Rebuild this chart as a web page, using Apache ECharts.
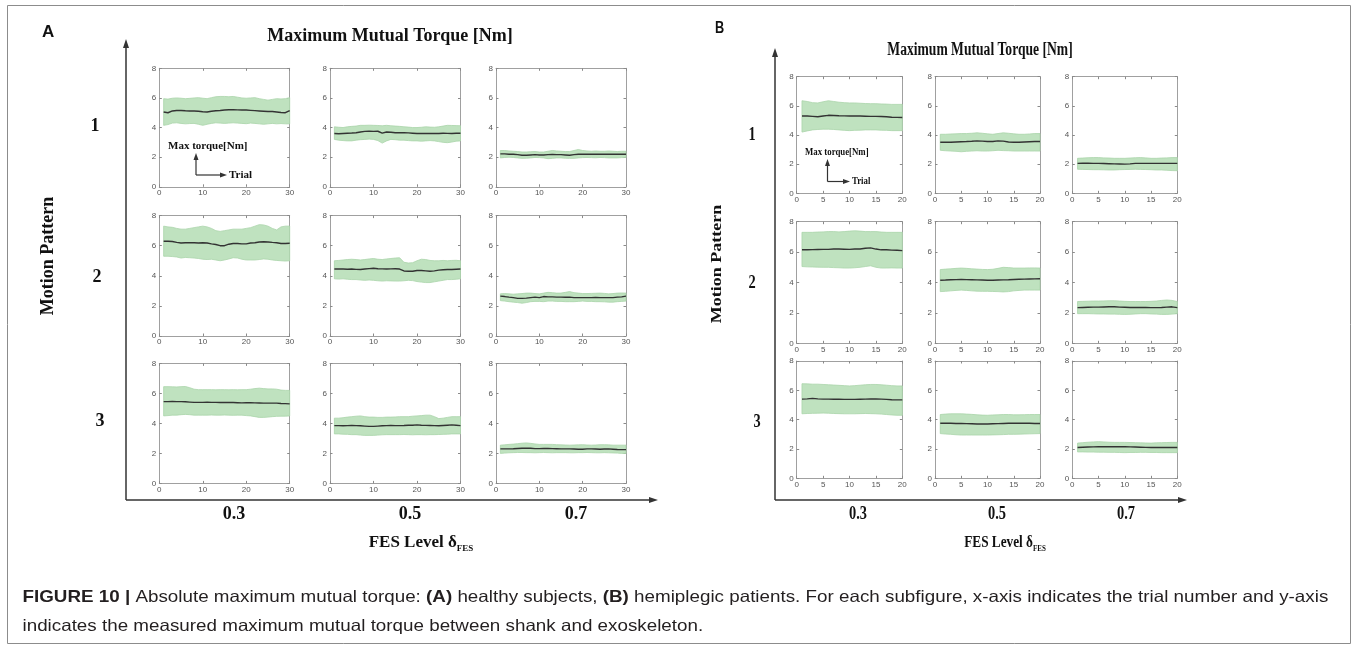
<!DOCTYPE html>
<html>
<head>
<meta charset="utf-8">
<script src="https://cdn.jsdelivr.net/npm/echarts@6/dist/echarts.min.js"></script>
<style>
html, body { margin: 0; padding: 0; background: #fff; }
#chart { width: 1357px; height: 646px; }
</style>
</head>
<body>
<div id="chart"></div>
<script>
// ---- Trial numbers ----
const trialsA = [1,2,3,4,5,6,7,8,9,10,11,12,13,14,15,16,17,18,19,20,21,22,23,24,25,26,27,28,29,30];
const trialsB = [1,2,3,4,5,6,7,8,9,10,11,12,13,14,15,16,17,18,19,20];

// ---- Tick labels ----
const yTicks = [0, 2, 4, 6, 8];
const xTicksA = [0, 10, 20, 30];
const xTicksB = [0, 5, 10, 15, 20];

// ---- Row / column categories ----
const motionPatterns = ['1', '2', '3'];
const fesLevels = ['0.3', '0.5', '0.7'];

// ---- (A) healthy subjects: mean and band limits, max mutual torque [Nm] ----
const a11Mean  = [5.05,5.0,5.12,5.15,5.15,5.13,5.12,5.12,5.1,5.07,5.05,5.1,5.13,5.15,5.18,5.2,5.2,5.19,5.18,5.18,5.16,5.14,5.12,5.1,5.08,5.08,5.05,5.02,5.0,5.15];
const a11Upper = [5.95,5.92,5.98,6.0,5.98,5.95,5.97,6.0,6.02,5.98,5.95,6.02,6.08,6.1,6.1,6.08,6.1,6.05,6.0,5.98,6.0,6.02,5.95,5.9,5.85,5.9,5.95,5.93,5.95,6.02];
const a11Lower = [4.15,4.2,4.3,4.32,4.28,4.25,4.27,4.28,4.22,4.15,4.22,4.28,4.32,4.3,4.28,4.3,4.32,4.3,4.28,4.26,4.3,4.28,4.25,4.22,4.25,4.28,4.25,4.27,4.25,4.25];

const a12Mean  = [3.6,3.58,3.6,3.62,3.63,3.65,3.7,3.74,3.75,3.74,3.75,3.62,3.7,3.68,3.65,3.66,3.65,3.64,3.62,3.6,3.6,3.6,3.6,3.61,3.6,3.62,3.61,3.6,3.62,3.62];
const a12Upper = [4.05,4.02,4.0,4.05,4.08,4.1,4.15,4.15,4.16,4.15,4.14,4.12,4.15,4.12,4.1,4.08,4.05,4.03,4.0,4.0,4.02,4.05,4.03,4.02,4.05,4.1,4.15,4.14,4.13,4.12];
const a12Lower = [3.2,3.15,3.12,3.1,3.1,3.15,3.18,3.2,3.22,3.2,3.12,2.95,3.1,3.2,3.18,3.15,3.15,3.12,3.1,3.1,3.08,3.1,3.12,3.1,3.05,3.0,2.98,3.02,3.08,3.1];

const a13Mean  = [2.22,2.22,2.2,2.2,2.17,2.13,2.13,2.15,2.17,2.15,2.15,2.17,2.18,2.17,2.17,2.15,2.13,2.17,2.2,2.2,2.2,2.2,2.2,2.2,2.2,2.2,2.2,2.2,2.2,2.2];
const a13Upper = [2.45,2.45,2.42,2.4,2.38,2.35,2.35,2.37,2.38,2.35,2.35,2.4,2.45,2.42,2.4,2.38,2.38,2.45,2.52,2.45,2.42,2.4,2.42,2.4,2.4,2.42,2.4,2.38,2.4,2.4];
const a13Lower = [1.95,1.98,2.0,1.98,1.95,1.92,1.93,1.95,1.98,1.97,1.95,1.9,1.92,1.95,1.95,1.93,1.92,1.92,1.95,1.97,1.98,1.97,1.96,1.98,1.97,1.95,1.95,1.95,1.97,1.98];

const a21Mean  = [6.3,6.3,6.28,6.22,6.18,6.2,6.2,6.2,6.18,6.2,6.18,6.12,6.08,6.0,6.0,6.1,6.15,6.15,6.12,6.12,6.18,6.2,6.25,6.26,6.25,6.22,6.2,6.15,6.15,6.16];
const a21Upper = [7.3,7.25,7.22,7.15,7.1,7.1,7.15,7.2,7.25,7.3,7.25,7.15,7.0,6.95,7.0,7.05,7.1,7.1,7.1,7.15,7.2,7.3,7.4,7.38,7.3,7.15,7.05,7.25,7.3,7.3];
const a21Lower = [5.3,5.3,5.28,5.25,5.18,5.22,5.2,5.18,5.15,5.1,5.08,5.1,5.05,5.0,5.05,5.12,5.2,5.18,5.1,5.05,5.05,5.05,5.08,5.12,5.1,5.05,5.02,5.0,4.98,5.0];

const a22Mean  = [4.45,4.45,4.45,4.44,4.45,4.43,4.42,4.45,4.48,4.5,4.47,4.46,4.45,4.46,4.47,4.45,4.32,4.3,4.3,4.35,4.35,4.33,4.3,4.33,4.38,4.4,4.42,4.42,4.44,4.45];
const a22Upper = [5.0,5.02,5.05,5.08,5.1,5.08,5.05,5.08,5.12,5.15,5.1,5.08,5.12,5.15,5.18,5.2,4.9,4.85,4.87,5.0,5.1,5.08,5.02,5.0,5.0,5.02,5.0,5.02,5.03,5.0];
const a22Lower = [3.8,3.78,3.8,3.77,3.75,3.75,3.72,3.7,3.72,3.7,3.67,3.65,3.67,3.66,3.65,3.65,3.67,3.7,3.68,3.62,3.58,3.55,3.55,3.6,3.65,3.7,3.75,3.75,3.77,3.8];

const a23Mean  = [2.65,2.62,2.58,2.55,2.5,2.5,2.52,2.55,2.58,2.55,2.62,2.6,2.6,2.58,2.58,2.57,2.58,2.55,2.55,2.55,2.55,2.55,2.56,2.55,2.55,2.55,2.55,2.58,2.6,2.65];
const a23Upper = [2.8,2.82,2.8,2.78,2.8,2.82,2.85,2.85,2.82,2.8,2.85,2.9,2.88,2.85,2.85,2.9,2.95,2.88,2.85,2.82,2.82,2.83,2.84,2.85,2.83,2.8,2.82,2.85,2.86,2.85];
const a23Lower = [2.35,2.32,2.28,2.25,2.22,2.18,2.22,2.28,2.3,2.3,2.28,2.32,2.32,2.3,2.3,2.28,2.28,2.28,2.3,2.32,2.3,2.3,2.28,2.28,2.27,2.25,2.25,2.28,2.3,2.32];

const a31Mean  = [5.45,5.45,5.46,5.45,5.45,5.44,5.42,5.4,5.4,5.4,5.41,5.4,5.4,5.39,5.39,5.4,5.39,5.38,5.37,5.38,5.38,5.37,5.36,5.35,5.35,5.35,5.35,5.33,5.32,5.3];
const a31Upper = [6.45,6.45,6.44,6.43,6.45,6.46,6.38,6.28,6.25,6.25,6.25,6.25,6.24,6.25,6.25,6.24,6.25,6.24,6.25,6.25,6.28,6.32,6.35,6.32,6.3,6.3,6.28,6.22,6.2,6.2];
const a31Lower = [4.5,4.52,4.55,4.55,4.58,4.6,4.58,4.55,4.55,4.55,4.55,4.56,4.55,4.55,4.56,4.55,4.54,4.55,4.55,4.52,4.5,4.45,4.4,4.4,4.42,4.45,4.47,4.48,4.48,4.5];

const a32Mean  = [3.85,3.85,3.84,3.85,3.86,3.85,3.84,3.82,3.8,3.8,3.82,3.84,3.85,3.86,3.85,3.85,3.86,3.88,3.88,3.9,3.88,3.87,3.86,3.85,3.84,3.86,3.88,3.9,3.88,3.85];
const a32Upper = [4.35,4.35,4.38,4.42,4.45,4.48,4.5,4.45,4.42,4.42,4.4,4.4,4.42,4.42,4.43,4.45,4.45,4.45,4.48,4.5,4.52,4.55,4.55,4.45,4.32,4.35,4.4,4.45,4.45,4.45];
const a32Lower = [3.3,3.3,3.28,3.27,3.25,3.25,3.22,3.2,3.2,3.2,3.22,3.24,3.25,3.25,3.25,3.25,3.26,3.25,3.24,3.25,3.25,3.24,3.25,3.25,3.26,3.27,3.28,3.3,3.3,3.3];

const a33Mean  = [2.3,2.3,2.3,2.31,2.33,2.34,2.35,2.34,2.32,2.32,2.33,2.33,2.32,2.31,2.3,2.3,2.3,2.29,2.28,2.28,2.3,2.3,2.29,2.28,2.29,2.3,2.28,2.26,2.25,2.25];
const a33Upper = [2.55,2.57,2.6,2.62,2.65,2.68,2.7,2.67,2.63,2.6,2.6,2.6,2.6,2.58,2.57,2.56,2.55,2.56,2.57,2.58,2.56,2.55,2.56,2.58,2.58,2.57,2.55,2.55,2.55,2.55];
const a33Lower = [2.0,2.02,2.04,2.05,2.06,2.06,2.05,2.05,2.04,2.05,2.06,2.05,2.04,2.05,2.05,2.05,2.04,2.04,2.05,2.05,2.06,2.05,2.04,2.04,2.05,2.04,2.03,2.02,2.0,2.0];

// ---- (B) hemiplegic patients ----
const b11Mean  = [5.3,5.3,5.28,5.25,5.3,5.35,5.34,5.32,5.31,5.3,5.3,5.3,5.29,5.28,5.28,5.27,5.25,5.22,5.21,5.2];
const b11Upper = [6.35,6.3,6.22,6.2,6.28,6.35,6.3,6.25,6.22,6.2,6.2,6.18,6.16,6.15,6.15,6.13,6.12,6.1,6.1,6.1];
const b11Lower = [4.2,4.28,4.35,4.38,4.4,4.4,4.38,4.35,4.32,4.3,4.32,4.33,4.35,4.35,4.35,4.33,4.32,4.3,4.3,4.3];

const b12Mean  = [3.5,3.5,3.5,3.52,3.54,3.55,3.57,3.6,3.58,3.55,3.55,3.6,3.58,3.52,3.5,3.5,3.52,3.54,3.55,3.55];
const b12Upper = [4.05,4.05,4.07,4.08,4.1,4.1,4.12,4.15,4.12,4.08,4.05,4.1,4.15,4.12,4.08,4.05,4.05,4.07,4.1,4.1];
const b12Lower = [2.95,2.92,2.9,2.88,2.85,2.88,2.9,2.92,2.9,2.9,2.92,2.95,2.93,2.92,2.9,2.9,2.9,2.9,2.9,2.9];

const b13Mean  = [2.05,2.06,2.06,2.05,2.05,2.04,2.03,2.02,2.01,2.0,2.02,2.05,2.05,2.05,2.05,2.05,2.05,2.05,2.05,2.05];
const b13Upper = [2.4,2.42,2.44,2.45,2.45,2.43,2.42,2.4,2.4,2.4,2.42,2.44,2.45,2.43,2.4,2.4,2.42,2.43,2.45,2.45];
const b13Lower = [1.65,1.64,1.63,1.62,1.62,1.61,1.6,1.6,1.62,1.63,1.64,1.65,1.64,1.63,1.62,1.6,1.6,1.58,1.56,1.55];

const b21Mean  = [6.15,6.15,6.16,6.17,6.18,6.18,6.2,6.2,6.19,6.18,6.2,6.2,6.25,6.28,6.2,6.15,6.15,6.13,6.12,6.1];
const b21Upper = [7.3,7.3,7.3,7.32,7.33,7.35,7.35,7.33,7.35,7.38,7.4,7.38,7.35,7.35,7.35,7.32,7.3,7.3,7.3,7.3];
const b21Lower = [5.05,5.03,5.02,5.01,5.0,5.0,4.98,4.97,4.95,4.95,4.97,5.0,5.05,5.1,5.0,4.95,4.95,4.96,4.95,4.95];

const b22Mean  = [4.15,4.16,4.18,4.19,4.2,4.19,4.18,4.17,4.16,4.15,4.15,4.16,4.17,4.18,4.2,4.21,4.22,4.23,4.24,4.25];
const b22Upper = [4.85,4.88,4.9,4.93,4.95,4.93,4.9,4.88,4.86,4.85,4.87,4.93,5.0,4.98,4.95,4.95,4.95,4.96,4.96,4.95];
const b22Lower = [3.4,3.42,3.45,3.48,3.5,3.48,3.45,3.43,3.42,3.42,3.41,3.4,3.38,3.4,3.45,3.48,3.5,3.5,3.5,3.5];

const b23Mean  = [2.35,2.36,2.37,2.38,2.38,2.39,2.4,2.4,2.38,2.37,2.36,2.36,2.36,2.36,2.35,2.35,2.36,2.38,2.4,2.35];
const b23Upper = [2.75,2.76,2.77,2.78,2.78,2.79,2.8,2.8,2.78,2.76,2.75,2.75,2.75,2.75,2.76,2.78,2.82,2.85,2.82,2.75];
const b23Lower = [1.95,1.95,1.95,1.94,1.93,1.93,1.92,1.92,1.91,1.9,1.91,1.93,1.95,1.95,1.93,1.92,1.9,1.9,1.92,1.95];

const b31Mean  = [5.4,5.42,5.45,5.42,5.4,5.4,5.39,5.39,5.38,5.38,5.38,5.39,5.4,5.41,5.42,5.4,5.38,5.36,5.35,5.35];
const b31Upper = [6.45,6.44,6.42,6.42,6.4,6.38,6.36,6.34,6.32,6.3,6.32,6.35,6.38,6.4,6.4,6.38,6.35,6.32,6.3,6.3];
const b31Lower = [4.4,4.42,4.43,4.44,4.45,4.44,4.42,4.41,4.4,4.4,4.4,4.41,4.42,4.41,4.4,4.38,4.35,4.32,4.3,4.3];

const b32Mean  = [3.75,3.75,3.75,3.74,3.74,3.73,3.72,3.7,3.7,3.7,3.72,3.73,3.74,3.75,3.75,3.75,3.75,3.75,3.74,3.74];
const b32Upper = [4.35,4.38,4.4,4.4,4.4,4.38,4.36,4.33,4.31,4.3,4.32,4.33,4.35,4.35,4.33,4.33,4.34,4.35,4.35,4.35];
const b32Lower = [3.05,3.02,3.0,2.97,2.95,2.95,2.95,2.95,2.95,2.95,2.96,2.97,2.98,3.0,3.0,3.01,3.02,3.03,3.04,3.05];

const b33Mean  = [2.1,2.12,2.13,2.14,2.15,2.15,2.15,2.15,2.15,2.15,2.14,2.13,2.12,2.11,2.1,2.1,2.1,2.1,2.1,2.1];
const b33Upper = [2.4,2.43,2.46,2.48,2.5,2.48,2.46,2.45,2.45,2.45,2.44,2.43,2.42,2.41,2.4,2.42,2.43,2.44,2.45,2.45];
const b33Lower = [1.8,1.8,1.79,1.79,1.78,1.78,1.77,1.77,1.76,1.75,1.76,1.76,1.77,1.77,1.76,1.76,1.75,1.75,1.75,1.75];

// ---- Panel grid: rows = motion pattern, cols = FES level ----
const setA = {
  trials: trialsA, xTicks: xTicksA,
  cells: [
    [[a11Mean, a11Lower, a11Upper], [a12Mean, a12Lower, a12Upper], [a13Mean, a13Lower, a13Upper]],
    [[a21Mean, a21Lower, a21Upper], [a22Mean, a22Lower, a22Upper], [a23Mean, a23Lower, a23Upper]],
    [[a31Mean, a31Lower, a31Upper], [a32Mean, a32Lower, a32Upper], [a33Mean, a33Lower, a33Upper]]
  ],
  colBox: [[159.3, 130.4], [330, 130.5], [496, 130]],
  rowBox: [[68.3, 118.5], [215.6, 120.4], [363.4, 120]]
};
const setB = {
  trials: trialsB, xTicks: xTicksB,
  cells: [
    [[b11Mean, b11Lower, b11Upper], [b12Mean, b12Lower, b12Upper], [b13Mean, b13Lower, b13Upper]],
    [[b21Mean, b21Lower, b21Upper], [b22Mean, b22Lower, b22Upper], [b23Mean, b23Lower, b23Upper]],
    [[b31Mean, b31Lower, b31Upper], [b32Mean, b32Lower, b32Upper], [b33Mean, b33Lower, b33Upper]]
  ],
  colBox: [[796.7, 105.6], [935, 105], [1072.3, 105]],
  rowBox: [[76.7, 116.6], [221.7, 121.6], [361, 117.3]]
};

const FRAME = '#a0a0a0';
const TICK = '#8a8a8a';
const TICK_LABEL = '#555';
const BAND_FILL = '#bfe2bf';
const BAND_EDGE = '#a9d4a9';
const MEAN_LINE = '#333';
const SERIF = '"Liberation Serif", "DejaVu Serif", serif';
const SANS = '"Liberation Sans", Arial, sans-serif';

const grids = [], xAxes = [], yAxes = [], series = [];

function tickStep(ticks) { return ticks[1] - ticks[0]; }

function addPanel(set, r, c) {
  const g = grids.length;
  const [left, width] = set.colBox[c];
  const [top, height] = set.rowBox[r];
  grids.push({ left, top, width, height, show: false, containLabel: false });

  const xMin = set.xTicks[0], xMax = set.xTicks[set.xTicks.length - 1];
  const yMin = yTicks[0], yMax = yTicks[yTicks.length - 1];
  const line = { show: true, onZero: false, lineStyle: { color: FRAME, width: 1 } };
  const tick = { show: true, inside: true, length: 2.5, lineStyle: { color: TICK, width: 1 } };

  xAxes.push({
    type: 'value', gridIndex: g, position: 'bottom', min: xMin, max: xMax, interval: tickStep(set.xTicks),
    axisLine: line, axisTick: tick, splitLine: { show: false },
    axisLabel: { show: true, fontSize: 8, color: TICK_LABEL, margin: 2, fontFamily: SANS, showMinLabel: true, showMaxLabel: true }
  });
  xAxes.push({
    type: 'value', gridIndex: g, position: 'top', min: xMin, max: xMax, interval: tickStep(set.xTicks),
    axisLine: line, axisTick: tick, splitLine: { show: false }, axisLabel: { show: false }
  });
  yAxes.push({
    type: 'value', gridIndex: g, position: 'left', min: yMin, max: yMax, interval: tickStep(yTicks),
    axisLine: line, axisTick: tick, splitLine: { show: false },
    axisLabel: { show: true, fontSize: 8, color: TICK_LABEL, margin: 3, fontFamily: SANS, showMinLabel: true, showMaxLabel: true }
  });
  yAxes.push({
    type: 'value', gridIndex: g, position: 'right', min: yMin, max: yMax, interval: tickStep(yTicks),
    axisLine: line, axisTick: tick, splitLine: { show: false }, axisLabel: { show: false }
  });

  const [mean, lower, upper] = set.cells[r][c];
  const xi = 2 * g, yi = 2 * g;

  // shaded band between lower and upper limits
  series.push({
    type: 'custom', xAxisIndex: xi, yAxisIndex: yi, silent: true, clip: false, z: 2,
    encode: { x: 0, y: [1, 2] },
    data: set.trials.map((t, i) => [t, lower[i], upper[i]]),
    renderItem(params, api) {
      if (params.dataIndexInside !== 0) return null;
      const n = params.dataInsideLength;
      const topPts = [], botPts = [];
      for (let i = 0; i < n; i++) {
        const x = api.value(0, i);
        botPts.push(api.coord([x, api.value(1, i)]));
        topPts.push(api.coord([x, api.value(2, i)]));
      }
      return {
        type: 'polygon',
        shape: { points: topPts.concat(botPts.reverse()) },
        style: { fill: BAND_FILL, stroke: BAND_EDGE, lineWidth: 0.8 }
      };
    }
  });
  // mean curve
  series.push({
    type: 'line', xAxisIndex: xi, yAxisIndex: yi, silent: true, z: 3,
    showSymbol: false, symbol: 'none',
    lineStyle: { color: MEAN_LINE, width: 1.4 },
    data: set.trials.map((t, i) => [t, mean[i]])
  });
}

for (let r = 0; r < 3; r++) for (let c = 0; c < 3; c++) addPanel(setA, r, c);
for (let r = 0; r < 3; r++) for (let c = 0; c < 3; c++) addPanel(setB, r, c);

// ---- Decorations: frame, titles, big axes, labels, inset legend, caption ----
const AXIS_COLOR = '#333';
function arrowLine(x1, y1, x2, y2, w) {
  return { type: 'line', shape: { x1, y1, x2, y2 }, style: { stroke: AXIS_COLOR, lineWidth: w || 1.5 }, silent: true };
}
function arrowHead(x, y, dir, len, half) {
  let pts;
  if (dir === 'up') pts = [[x, y], [x - half, y + len], [x + half, y + len]];
  else pts = [[x, y], [x - len, y - half], [x - len, y + half]];
  return { type: 'polygon', shape: { points: pts }, style: { fill: AXIS_COLOR }, silent: true };
}
function txt(x, y, text, opts) {
  opts = opts || {};
  return {
    type: 'text', x, y, rotation: opts.rotation || 0,
    scaleX: opts.scaleX || 1, scaleY: opts.scaleY || 1, silent: true,
    style: {
      text, fill: opts.fill || '#111',
      fontFamily: opts.family || SERIF, fontSize: opts.size || 18, fontWeight: opts.weight || 'bold',
      align: opts.align || 'center', verticalAlign: opts.valign || 'middle',
      rich: opts.rich
    }
  };
}

const graphics = [];
graphics.push({ type: 'rect', shape: { x: 7.5, y: 5.5, width: 1343, height: 638 }, style: { fill: null, stroke: '#8c8c8c', lineWidth: 1 }, silent: true });

// panel letters
graphics.push(txt(42, 32, 'A', { family: SANS, size: 17, align: 'left', fill: '#111' }));
graphics.push(txt(715, 28, 'B', { family: SANS, size: 17, align: 'left', fill: '#111', scaleX: 0.75 }));

// titles
graphics.push(txt(390, 36, 'Maximum Mutual Torque [Nm]', { size: 18 }));
graphics.push(txt(980, 50, 'Maximum Mutual Torque [Nm]', { size: 18, scaleX: 0.755 }));

// big axes (A)
graphics.push(arrowLine(126, 47, 126, 500));
graphics.push(arrowLine(126, 500, 650, 500));
graphics.push(arrowHead(126, 39, 'up', 9, 3));
graphics.push(arrowHead(658, 500, 'right', 9, 3));
// big axes (B)
graphics.push(arrowLine(775, 56, 775, 500));
graphics.push(arrowLine(775, 500, 1179, 500));
graphics.push(arrowHead(775, 48, 'up', 9, 3));
graphics.push(arrowHead(1187, 500, 'right', 9, 3));

// row labels (motion pattern)
const rowLabelA = [[95, 126], [97, 277], [100, 421]];
const rowLabelB = [[752, 135], [752, 283], [757, 422]];
motionPatterns.forEach((m, i) => {
  graphics.push(txt(rowLabelA[i][0], rowLabelA[i][1], m, { size: 18 }));
  graphics.push(txt(rowLabelB[i][0], rowLabelB[i][1], m, { size: 18, scaleX: 0.8 }));
});
graphics.push(txt(48, 256, 'Motion Pattern', { size: 18, rotation: Math.PI / 2 }));
graphics.push(txt(717, 264, 'Motion Pattern', { size: 18, rotation: Math.PI / 2, scaleY: 0.85 }));

// column labels (FES level)
const colLabelA = [234, 410, 576];
const colLabelB = [858, 997, 1126];
fesLevels.forEach((f, i) => {
  graphics.push(txt(colLabelA[i], 514, f, { size: 18 }));
  graphics.push(txt(colLabelB[i], 514, f, { size: 18, scaleX: 0.8 }));
});
const fesRich = { m: { fontFamily: SERIF, fontSize: 17, fontWeight: 'bold', fill: '#111', lineHeight: 20 },
                  s: { fontFamily: SERIF, fontSize: 9, fontWeight: 'bold', fill: '#111', lineHeight: 11, verticalAlign: 'bottom' } };
graphics.push(txt(421, 543, '{m|FES Level δ}{s|FES}', { size: 17, rich: fesRich }));
graphics.push(txt(1005, 543, '{m|FES Level δ}{s|FES}', { size: 17, rich: fesRich, scaleX: 0.78 }));

// inset legend (A, first panel)
graphics.push(txt(168, 146, 'Max torque[Nm]', { size: 11, align: 'left' }));
graphics.push(arrowLine(196, 160, 196, 175, 1.2));
graphics.push(arrowLine(196, 175, 220, 175, 1.2));
graphics.push(arrowHead(196, 153, 'up', 7, 2.5));
graphics.push(arrowHead(227, 175, 'right', 7, 2.5));
graphics.push(txt(229, 175, 'Trial', { size: 11, align: 'left' }));
// inset legend (B, first panel)
graphics.push(txt(805, 152, 'Max torque[Nm]', { size: 11, align: 'left', scaleX: 0.8 }));
graphics.push(arrowLine(827.5, 166, 827.5, 181.5, 1.2));
graphics.push(arrowLine(827.5, 181.5, 844, 181.5, 1.2));
graphics.push(arrowHead(827.5, 159, 'up', 7, 2.5));
graphics.push(arrowHead(850, 181.5, 'right', 7, 2.5));
graphics.push(txt(852, 181, 'Trial', { size: 11, align: 'left', scaleX: 0.8 }));

// caption
const CAP_SIZE = 16.5;
const capRich = {
  n: { fontFamily: SANS, fontSize: CAP_SIZE, fontWeight: 'normal', fill: '#231f20' },
  b: { fontFamily: SANS, fontSize: CAP_SIZE, fontWeight: 'bold', fill: '#231f20' }
};
graphics.push(txt(22.5, 597,
  '{b|FIGURE 10 | }{n|Absolute maximum mutual torque: }{b|(A)}{n| healthy subjects, }{b|(B)}{n| hemiplegic patients. For each subfigure, x-axis indicates the trial number and y-axis}',
  { align: 'left', rich: capRich, family: SANS, size: CAP_SIZE, weight: 'normal', scaleX: 1.14 }));
graphics.push(txt(22.5, 626, '{n|indicates the measured maximum mutual torque between shank and exoskeleton.}',
  { align: 'left', rich: capRich, family: SANS, size: CAP_SIZE, weight: 'normal', scaleX: 1.14 }));

const chart = echarts.init(document.getElementById('chart'), null, { renderer: 'canvas' });
chart.setOption({
  animation: false,
  backgroundColor: '#fff',
  grid: grids,
  xAxis: xAxes,
  yAxis: yAxes,
  series,
  graphic: { elements: graphics }
});
</script>
</body>
</html>
